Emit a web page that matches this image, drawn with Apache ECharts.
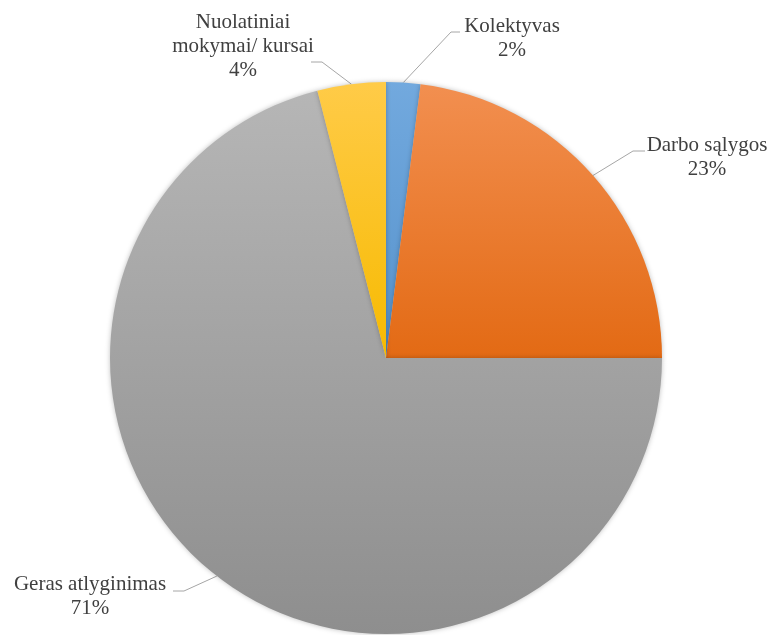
<!DOCTYPE html>
<html>
<head>
<meta charset="utf-8">
<script src="https://cdn.jsdelivr.net/npm/echarts@6/dist/echarts.min.js"></script>
<style>
  html, body { margin: 0; padding: 0; background: #ffffff; }
  #chart { width: 775px; height: 635px; }
</style>
</head>
<body>
<div id="chart"></div>
<script>
// Categories and their shares (%)
const categories = ['Kolektyvas', 'Darbo sąlygos', 'Geras atlyginimas', 'Nuolatiniai mokymai/ kursai'];
const shares = [2, 23, 71, 4];

// Slice gradient colours: [top, bottom]
const sliceColors = [
  ['#72A9DE', '#5692CC'],
  ['#F28F50', '#E36A14'],
  ['#B6B6B6', '#8E8E8E'],
  ['#FFCB48', '#F7BA00']
];

// Label placement: block centre, then lead-line elbow and end
const labelSpots = [
  { x: 512, y: 38, elbow: [451, 32], end: [460, 32] },
  { x: 707, y: 157, elbow: [633, 151], end: [645, 151] },
  { x: 90, y: 596, elbow: [184, 591], end: [173, 591] },
  { x: 243, y: 46, elbow: [322, 62], end: [311, 62] }
];

const CX = 386, CY = 358, R = 276;

function gradient(c) {
  return new echarts.graphic.LinearGradient(0, 0, 0, 1, [
    { offset: 0, color: c[0] },
    { offset: 1, color: c[1] }
  ]);
}

// Point on the rim at the middle of a slice
const total = shares.reduce((a, b) => a + b, 0);
function rimPoint(i) {
  let before = 0;
  for (let k = 0; k < i; k++) before += shares[k];
  const mid = (before + shares[i] / 2) / total * Math.PI * 2;
  return [CX + R * Math.sin(mid), CY - R * Math.cos(mid)];
}

const chart = echarts.init(document.getElementById('chart'), null, { renderer: 'canvas' });

chart.setOption({
  backgroundColor: '#ffffff',
  animation: false,
  series: [{
    type: 'pie',
    center: [CX, CY],
    radius: R,
    startAngle: 90,
    clockwise: true,
    data: categories.map((name, i) => ({
      name: name,
      value: shares[i],
      itemStyle: { color: gradient(sliceColors[i]) }
    })),
    itemStyle: {
      borderWidth: 0,
      shadowBlur: 5,
      shadowColor: 'rgba(0,0,0,0.25)'
    },
    label: {
      show: true,
      position: 'outside',
      formatter: function (p) {
        return p.name.replace('Nuolatiniai ', 'Nuolatiniai\n') + '\n' + p.value + '%';
      },
      fontFamily: '"Liberation Serif", "Times New Roman", serif',
      fontSize: 21,
      lineHeight: 24,
      color: '#404040',
      align: 'center'
    },
    labelLine: {
      show: true,
      length: 20,
      length2: 10,
      lineStyle: { color: '#A6A6A6', width: 1 }
    },
    labelLayout: function (params) {
      const s = labelSpots[params.dataIndex];
      return {
        x: s.x,
        y: s.y,
        align: 'center',
        verticalAlign: 'middle',
        labelLinePoints: [rimPoint(params.dataIndex), s.elbow, s.end]
      };
    },
    emphasis: { disabled: true }
  }]
});
</script>
</body>
</html>
